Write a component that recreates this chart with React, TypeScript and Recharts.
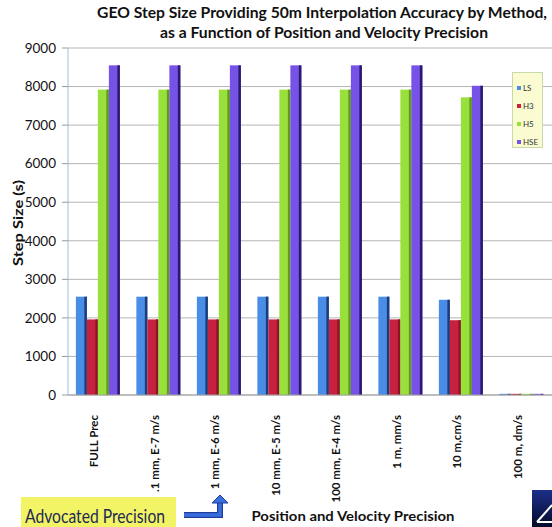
import React from "react";
import { Bar, BarChart, CartesianGrid, XAxis, YAxis } from "recharts";

// precision settings along the x axis
const categories = [
  "FULL Prec",
  ".1 mm, E-7 m/s",
  "1 mm, E-6 m/s",
  "10 mm, E-5 m/s",
  "100 mm, E-4 m/s",
  "1 m, mm/s",
  "10 m,cm/s",
  "100 m, dm/s",
];

// step size (s) per method
const lsValues = [2550, 2550, 2550, 2550, 2550, 2550, 2470, 30];
const h3Values = [1960, 1960, 1960, 1960, 1960, 1960, 1940, 30];
const h5Values = [7920, 7920, 7920, 7920, 7920, 7920, 7720, 30];
const hseValues = [8550, 8550, 8550, 8550, 8550, 8550, 8020, 30];

const yTicks = [0, 1000, 2000, 3000, 4000, 5000, 6000, 7000, 8000, 9000];

const series = [
  { key: "LS", color: "#4a8de6", side: "#1d3c7a" },
  { key: "H3", color: "#c8213f", side: "#8a1529" },
  { key: "H5", color: "#9ae03c", side: "#5f9a1c" },
  { key: "HSE", color: "#7752e6", side: "#2a1a6e" },
];

const data = categories.map((name, i) => ({
  name,
  LS: lsValues[i],
  H3: h3Values[i],
  H5: h5Values[i],
  HSE: hseValues[i],
}));

const FONT = "Lato, 'Open Sans', sans-serif";

function makeShape(fill: string, side: string) {
  return (props: any) => {
    const { x, y, width, height } = props;
    if (!height || height <= 0) return null;
    const s = Math.min(2.5, width / 3);
    return (
      <g>
        <rect x={x} y={y} width={width} height={height} fill={fill} />
        <rect x={x + width - s} y={y} width={s} height={height} fill={side} />
      </g>
    );
  };
}

function XTick({ x, y, payload }: any) {
  return (
    <g transform={`translate(${x - 4},${y})`}>
      <text
        transform="rotate(-90)"
        x={-12}
        y={4}
        textAnchor="end"
        fontFamily={FONT}
        fontWeight={700}
        fontSize={11.5}
        fill="#111"
      >
        {payload.value}
      </text>
    </g>
  );
}

function LegendBox() {
  return (
    <div
      style={{
        position: "absolute",
        left: 512,
        top: 72,
        width: 31,
        height: 76,
        background: "#fbfbd2",
        border: "1px solid #c9d9a9",
        boxSizing: "border-box",
        paddingTop: 6,
        paddingLeft: 4,
        fontFamily: FONT,
        fontSize: 8,
        color: "#333",
      }}
    >
      {series.map((s) => (
        <div
          key={s.key}
          style={{ display: "flex", alignItems: "center", height: 18 }}
        >
          <span
            style={{
              width: 4,
              height: 4,
              background: s.color,
              marginRight: 2,
              display: "inline-block",
            }}
          />
          {s.key}
        </div>
      ))}
    </div>
  );
}

export default function App() {
  return (
    <div
      style={{
        position: "absolute",
        left: 0,
        top: 0,
        width: 552,
        height: 527,
        background: "#fff",
        overflow: "hidden",
      }}
    >
      <BarChart
        width={552}
        height={527}
        data={data}
        margin={{ top: 48, right: 0, bottom: 0, left: 0 }}
        barCategoryGap="13%"
        barGap={0}
      >
        <CartesianGrid vertical={false} stroke="#b5b5b5" />
        <XAxis
          dataKey="name"
          height={132}
          interval={0}
          tick={<XTick />}
          tickLine={false}
          axisLine={{ stroke: "#a0a0a0" }}
        />
        <YAxis
          width={68}
          domain={[0, 9000]}
          ticks={yTicks}
          tickSize={6}
          tickMargin={6}
          tickLine={{ stroke: "#999" }}
          axisLine={{ stroke: "#9cc2e8" }}
          tick={{ fontFamily: FONT, fontSize: 13.5, fill: "#111" }}
        />
        {series.map((s) => (
          <Bar
            key={s.key}
            dataKey={s.key}
            fill={s.color}
            shape={makeShape(s.color, s.side)}
            isAnimationActive={false}
          />
        ))}
      </BarChart>
      <LegendBox />
      <svg
        width={552}
        height={527}
        style={{ position: "absolute", left: 0, top: 0, pointerEvents: "none" }}
      >
        <text
          x={322}
          y={18}
          textAnchor="middle"
          fontFamily={FONT}
          fontWeight={700}
          fontSize={15}
          textLength={450}
          lengthAdjust="spacingAndGlyphs"
          fill="#111"
        >
          GEO Step Size Providing 50m Interpolation Accuracy by Method,
        </text>
        <text
          x={324}
          y={38}
          textAnchor="middle"
          fontFamily={FONT}
          fontWeight={700}
          fontSize={15}
          textLength={328}
          lengthAdjust="spacingAndGlyphs"
          fill="#111"
        >
          as a Function of Position and Velocity Precision
        </text>
        <text
          transform="translate(23,223) rotate(-90)"
          textAnchor="middle"
          fontFamily={FONT}
          fontWeight={700}
          fontSize={14}
          textLength={86}
          lengthAdjust="spacingAndGlyphs"
          fill="#111"
        >
          Step Size (s)
        </text>
        <text
          x={353}
          y={521}
          textAnchor="middle"
          fontFamily={FONT}
          fontWeight={700}
          fontSize={14}
          textLength={203}
          lengthAdjust="spacingAndGlyphs"
          fill="#111"
        >
          Position and Velocity Precision
        </text>
        <rect x={21} y={497} width={155} height={32} fill="#f3f366" />
        <text
          x={25}
          y={523}
          fontFamily={FONT}
          fontSize={19}
          textLength={140}
          lengthAdjust="spacingAndGlyphs"
          fill="#1b2a52"
        >
          Advocated Precision
        </text>
        <path
          d="M184 515 H220 V502"
          fill="none"
          stroke="#1f3f9a"
          strokeWidth={6}
        />
        <path
          d="M184 515 H220 V502"
          fill="none"
          stroke="#3a6fe0"
          strokeWidth={3.5}
        />
        <polygon points="212,503 228,503 220,495" fill="#3a6fe0" stroke="#1f3f9a" strokeWidth={1} />
        <defs>
          <linearGradient id="logoFill" x1="0" y1="0" x2="0" y2="1">
            <stop offset="0%" stopColor="#1b2f8a" />
            <stop offset="100%" stopColor="#050a2a" />
          </linearGradient>
        </defs>
        <rect x={532} y={490} width={20} height={37} fill="url(#logoFill)" />
        <path d="M537 522 L552 505" stroke="#fff" strokeWidth={2} fill="none" />
        <path d="M537 522 H552" stroke="#fff" strokeWidth={2} fill="none" />
      </svg>
    </div>
  );
}
